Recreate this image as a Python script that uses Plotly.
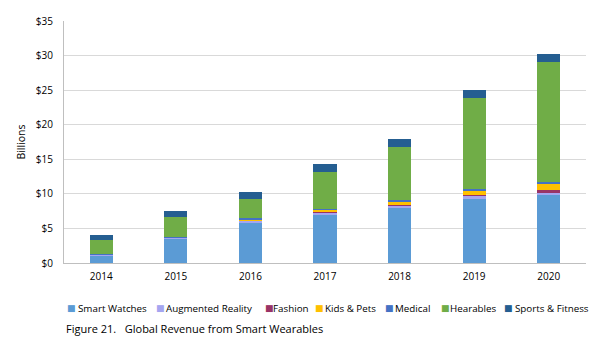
import plotly.graph_objects as go

years = ["2014", "2015", "2016", "2017", "2018", "2019", "2020"]
smart_watches = [1.1, 3.5, 5.9, 7.0, 7.9, 9.3, 9.8]
augmented_reality = [0.1, 0.15, 0.2, 0.3, 0.4, 0.4, 0.3]
fashion = [0.02, 0.05, 0.05, 0.1, 0.1, 0.1, 0.4]
kids_pets = [0.02, 0.05, 0.2, 0.3, 0.5, 0.7, 0.9]
medical = [0.02, 0.05, 0.1, 0.1, 0.2, 0.2, 0.3]
hearables = [2.0, 2.8, 2.8, 5.4, 7.7, 13.1, 17.3]
sports_fitness = [0.85, 0.9, 1.0, 1.15, 1.2, 1.25, 1.3]

series_names = ["Smart Watches", "Augmented Reality", "Fashion", "Kids & Pets",
                "Medical", "Hearables", "Sports & Fitness"]
series_values = [smart_watches, augmented_reality, fashion, kids_pets,
                 medical, hearables, sports_fitness]
series_colors = ["#5B9BD5", "#A5A5F0", "#993366", "#FFC000", "#4472C4", "#70AD47", "#255E91"]
y_ticks = [0, 5, 10, 15, 20, 25, 30, 35]
y_tick_labels = ["$0", "$5", "$10", "$15", "$20", "$25", "$30", "$35"]
caption = "Figure 21.\u00a0\u00a0\u00a0Global Revenue from Smart Wearables"

# layout (pixel positions of legend swatches / labels)
W, H = 600, 351
ML, MR, MT, MB = 64, 14, 21, 88
pw, ph = W - ML - MR, H - MT - MB
swatch_px = [66, 154.5, 263.5, 313.5, 383.5, 439.5, 502.5]
label_px = [76.5, 164.5, 271.5, 323.5, 393.5, 448.5, 513.5]
legend_y_px = 308
caption_px = (65, 328)

def px_x(x):
    return (x - ML) / pw

def px_y(y):
    return (H - MB - y) / ph

font = "Open Sans, DejaVu Sans, sans-serif"
fig = go.Figure()
for name, vals, col in zip(series_names, series_values, series_colors):
    fig.add_trace(go.Bar(x=years, y=vals, name=name, showlegend=False,
                         marker=dict(color=col, line=dict(width=0))))

annotations = []
for name, col, sx, lx in zip(series_names, series_colors, swatch_px, label_px):
    annotations.append(dict(text="\u25A0", xref="paper", yref="paper", x=px_x(sx), y=px_y(legend_y_px),
                            xanchor="left", yanchor="middle", showarrow=False, borderpad=0,
                            font=dict(family="DejaVu Sans", size=9, color=col)))
    annotations.append(dict(text=name, xref="paper", yref="paper", x=px_x(lx), y=px_y(legend_y_px),
                            xanchor="left", yanchor="middle", showarrow=False, borderpad=0,
                            font=dict(size=9.8, color="#000000")))
annotations.append(dict(text=caption, xref="paper", yref="paper", x=px_x(caption_px[0]),
                        y=px_y(caption_px[1]), xanchor="left", yanchor="middle",
                        showarrow=False, borderpad=0, font=dict(size=11, color="#000000")))

fig.update_layout(
    barmode="stack",
    bargap=0.69,
    width=W, height=H,
    margin=dict(l=ML, r=MR, t=MT, b=MB),
    paper_bgcolor="white", plot_bgcolor="white",
    font=dict(family=font, size=10, color="#000000"),
    showlegend=False,
    xaxis=dict(showline=True, linecolor="#BFBFBF", linewidth=1, ticks="", showgrid=False,
               tickfont=dict(size=10), automargin=False, ticklabelstandoff=4),
    yaxis=dict(range=[0, 35], tickvals=y_ticks, ticktext=y_tick_labels, showgrid=True,
               gridcolor="#D9D9D9", gridwidth=1, showline=True, linecolor="#BFBFBF",
               linewidth=1, ticks="", zeroline=False, tickfont=dict(size=10),
               ticklabelstandoff=8, automargin=False,
               title=dict(text="Billions", font=dict(size=10.5), standoff=8)),
    annotations=annotations,
)
fig.write_html("out.html")
